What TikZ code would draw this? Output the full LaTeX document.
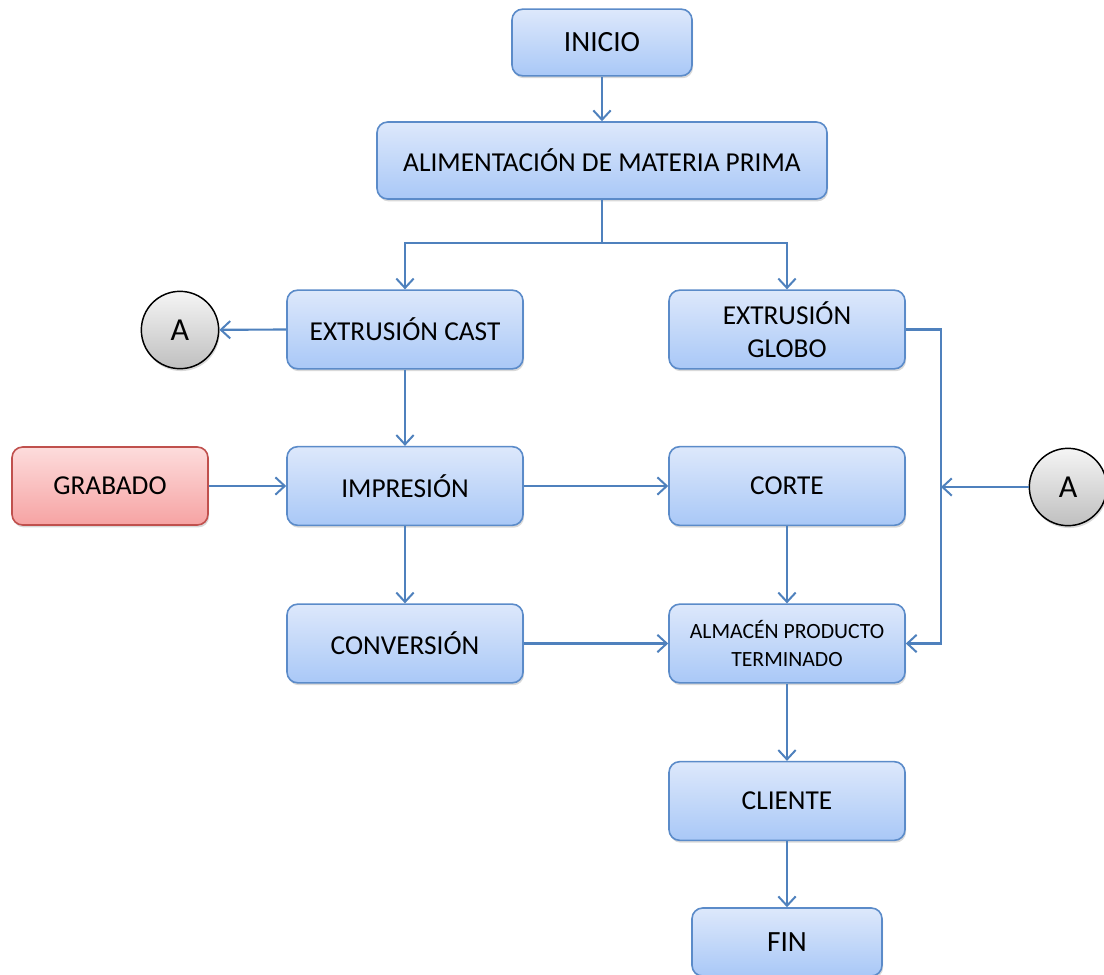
\documentclass[tikz,border=0pt]{standalone}
\usepackage{fontspec}
\setmainfont{Carlito}
\usetikzlibrary{arrows.meta,shadows}
\definecolor{boxedge}{HTML}{5B8BC9}
\definecolor{boxtop}{HTML}{DDE8FB}
\definecolor{boxbot}{HTML}{A9C8F7}
\definecolor{redge}{HTML}{C0504D}
\definecolor{redtop}{HTML}{FDDCDC}
\definecolor{redbot}{HTML}{F6A3A3}
\definecolor{linkcol}{HTML}{4F81BD}
\tikzset{
  procbox/.style={draw=boxedge, line width=1.2pt, rounded corners=8pt,
    top color=boxtop, bottom color=boxbot, align=center,
    minimum width=177pt, minimum height=59pt, inner sep=2pt,
    font=\fontsize{20.5}{24}\selectfont,
    drop shadow={shadow xshift=0.8pt, shadow yshift=-1.8pt, opacity=0.25, fill=black!60}},
  redbox/.style={procbox, draw=redge, top color=redtop, bottom color=redbot},
  connector/.style={draw=black, line width=1.1pt, circle, minimum size=58pt,
    inner sep=0pt, top color=black!4, bottom color=black!25,
    font=\fontsize{24}{28}\selectfont,
    drop shadow={shadow xshift=0.8pt, shadow yshift=-1.8pt, opacity=0.25, fill=black!60}},
  link/.style={draw=linkcol, line width=1.6pt,
    -{Straight Barb[length=7pt,width=13pt,line width=1.5pt]}},
  plain/.style={draw=linkcol, line width=1.6pt}
}
\begin{document}
\begin{tikzpicture}[x=0.75pt,y=-0.75pt]
\useasboundingbox (0,0) rectangle (1104,975);

% process steps
\node[procbox, minimum width=135pt, minimum height=50pt, font=\fontsize{22}{26}\selectfont] (inicio) at (602,42.5) {INICIO};
\node[procbox, minimum width=337.5pt, minimum height=57.75pt] (alim) at (602,160.5) {ALIMENTACIÓN DE MATERIA PRIMA};
\node[procbox] (cast) at (405,329.5) {EXTRUSIÓN CAST};
\node[procbox] (globo) at (787,329.5) {EXTRUSIÓN\\[1pt]GLOBO};
\node[redbox, minimum width=147pt, minimum height=58.5pt] (grabado) at (110,486) {GRABADO};
\node[procbox] (impresion) at (405,486) {IMPRESIÓN};
\node[procbox] (corte) at (787,486) {CORTE};
\node[procbox] (conversion) at (405,643.5) {CONVERSIÓN};
\node[procbox, font=\fontsize{16.3}{20}\selectfont] (almacen) at (787,643.5) {ALMACÉN PRODUCTO\\[1pt]TERMINADO};
\node[procbox] (cliente) at (787,801) {CLIENTE};
\node[procbox, minimum width=142.5pt, minimum height=51pt, font=\fontsize{22}{26}\selectfont] (fin) at (787,942) {FIN};

% off-page connectors
\node[connector] (aleft) at (180,330) {A};
\node[connector] (aright) at (1068,487) {A};

% junction points
\coordinate (split) at (602,243);
\coordinate (rail) at (941,487);

% main flow
\draw[link] (inicio) -- (alim);
\draw[plain] (alim.south) -- (split);
\draw[link] (split) -| (cast.north);
\draw[link] (split) -| (globo.north);
\draw[link] (cast.west) -- (aleft);
\draw[link] (cast) -- (impresion);
\draw[link] (grabado) -- (impresion);
\draw[link] (impresion) -- (corte);
\draw[link] (impresion) -- (conversion);
\draw[link] (corte) -- (almacen);
\draw[link] (conversion) -- (almacen);
\draw[link] (globo.east) -| (rail) |- (almacen.east);
\draw[link] (aright) -- (rail);
\draw[link] (almacen) -- (cliente);
\draw[link] (cliente) -- (fin);
\end{tikzpicture}
\end{document}
